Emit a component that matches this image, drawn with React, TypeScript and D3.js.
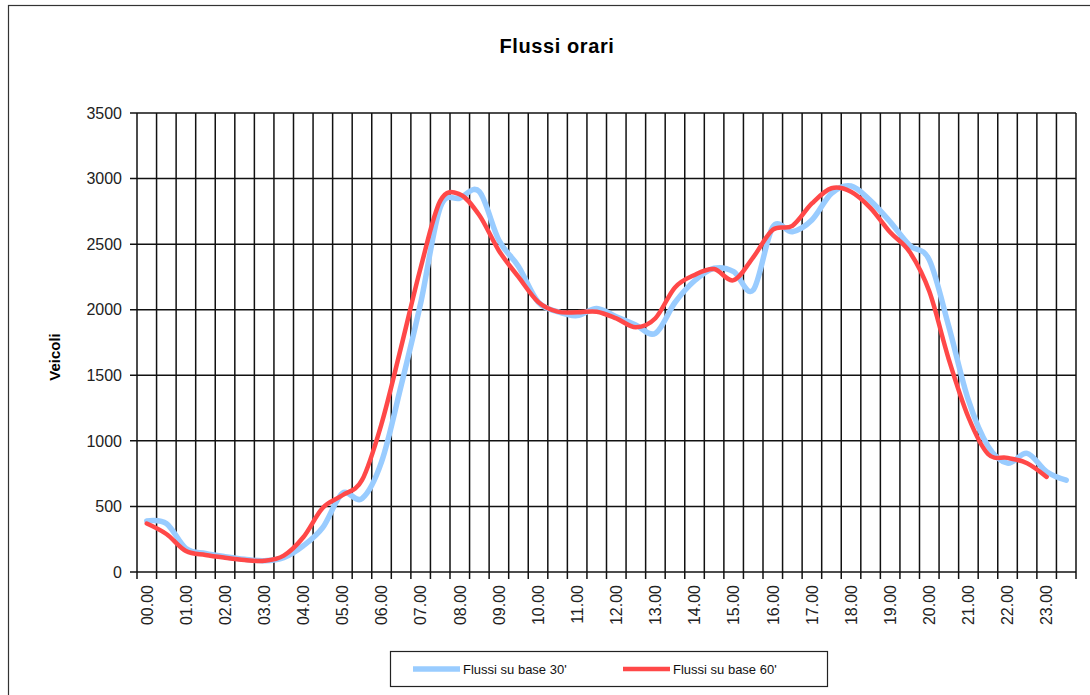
import { useRef, useEffect } from 'react';
import * as d3 from 'd3';

// Half-hour categories (only full hours get a label)
const categories = [
    '00.00', '00.30', '01.00', '01.30', '02.00', '02.30', '03.00', '03.30',
    '04.00', '04.30', '05.00', '05.30', '06.00', '06.30', '07.00', '07.30',
    '08.00', '08.30', '09.00', '09.30', '10.00', '10.30', '11.00', '11.30',
    '12.00', '12.30', '13.00', '13.30', '14.00', '14.30', '15.00', '15.30',
    '16.00', '16.30', '17.00', '17.30', '18.00', '18.30', '19.00', '19.30',
    '20.00', '20.30', '21.00', '21.30', '22.00', '22.30', '23.00', '23.30',
];

const flussi30 = [
    390, 370, 180, 142, 117, 97, 86, 110, 200, 340, 600, 560,
    840, 1420, 2050, 2780, 2850, 2900, 2530, 2330, 2060, 1985, 1955, 2010,
    1947, 1883, 1820, 2055, 2221, 2316, 2290, 2150, 2630, 2595, 2684, 2887,
    2943, 2830, 2670, 2490, 2380, 1870, 1310, 960, 830, 905, 765, 700,
];

const flussi60: (number | null)[] = [
    370, 290, 160, 130, 109, 92, 85, 125, 265, 490, 585, 700,
    1130, 1715, 2320, 2830, 2880, 2720, 2450, 2250, 2060, 1985, 1980, 1985,
    1934, 1866, 1935, 2170, 2265, 2310, 2225, 2400, 2610, 2640, 2810, 2926,
    2900, 2775, 2590, 2440, 2140, 1620, 1180, 900, 870, 830, 725, null,
];

const yTicks = [0, 500, 1000, 1500, 2000, 2500, 3000, 3500];

const BLUE = '#99ccff';
const RED = '#ff4848';
const FONT = '"Liberation Sans", Arial, sans-serif';

export default function App() {
    const chartRef = useRef<SVGSVGElement>(null);

    useEffect(() => {
        if (!chartRef.current) return;
        const svg = d3.select(chartRef.current);
        svg.selectAll('*').remove();

        const width = 1090;
        const height = 695;
        const plot = { left: 137, right: 1076, top: 113, bottom: 572 };

        svg.attr('width', width).attr('height', height);

        // Outer frame
        svg.append('rect')
            .attr('x', 8.5)
            .attr('y', 5.5)
            .attr('width', 1200)
            .attr('height', 800)
            .attr('fill', '#fff')
            .attr('stroke', '#333')
            .attr('stroke-width', 1.2);

        // Scales
        const x = d3.scaleBand()
            .domain(categories)
            .range([plot.left, plot.right])
            .padding(0);

        const y = d3.scaleLinear()
            .domain([0, 3500])
            .range([plot.bottom, plot.top]);

        const cx = (c: string) => x(c)! + x.bandwidth() / 2;

        // Grid
        const grid = svg.append('g').attr('stroke', '#111').attr('stroke-width', 1.5);
        yTicks.forEach(t => {
            grid.append('line')
                .attr('x1', plot.left - 7).attr('x2', plot.right)
                .attr('y1', y(t)).attr('y2', y(t));
        });
        const bounds = categories.map(c => x(c)!).concat([plot.right]);
        bounds.forEach(b => {
            grid.append('line')
                .attr('x1', b).attr('x2', b)
                .attr('y1', plot.top).attr('y2', plot.bottom + 7);
        });

        // Y tick labels
        svg.append('g')
            .selectAll('text')
            .data(yTicks)
            .enter()
            .append('text')
            .attr('x', plot.left - 15)
            .attr('y', d => y(d))
            .attr('dy', '0.36em')
            .attr('text-anchor', 'end')
            .attr('font-family', FONT)
            .attr('font-size', '16px')
            .attr('fill', '#222')
            .text(d => d);

        // X tick labels (full hours only)
        svg.append('g')
            .selectAll('text')
            .data(categories.filter((_, i) => i % 2 === 0))
            .enter()
            .append('text')
            .attr('transform', d => `translate(${cx(d)},${plot.bottom + 13}) rotate(-90)`)
            .attr('dy', '0.36em')
            .attr('text-anchor', 'end')
            .attr('font-family', FONT)
            .attr('font-size', '16px')
            .attr('fill', '#222')
            .text(d => d);

        // Lines (Excel-style smoothing)
        const line = d3.line<number | null>()
            .defined(d => d !== null)
            .x((_, i) => cx(categories[i]))
            .y(d => y(d as number))
            .curve(d3.curveCatmullRom.alpha(0));

        svg.append('path')
            .attr('d', line(flussi30))
            .attr('fill', 'none')
            .attr('stroke', BLUE)
            .attr('stroke-width', 5.5)
            .attr('stroke-linecap', 'round')
            .attr('stroke-linejoin', 'round');

        svg.append('path')
            .attr('d', line(flussi60))
            .attr('fill', 'none')
            .attr('stroke', RED)
            .attr('stroke-width', 4.5)
            .attr('stroke-linecap', 'round')
            .attr('stroke-linejoin', 'round');

        // Title
        svg.append('text')
            .attr('x', 557)
            .attr('y', 53)
            .attr('text-anchor', 'middle')
            .attr('font-family', FONT)
            .attr('font-size', '20px')
            .attr('font-weight', 'bold')
            .attr('letter-spacing', '0.6px')
            .text('Flussi orari');

        // Y axis title
        svg.append('text')
            .attr('transform', `translate(55,357) rotate(-90)`)
            .attr('dy', '0.36em')
            .attr('text-anchor', 'middle')
            .attr('font-family', FONT)
            .attr('font-size', '15px')
            .attr('font-weight', 'bold')
            .text('Veicoli');

        // Legend
        const lg = svg.append('g');
        lg.append('rect')
            .attr('x', 390.5)
            .attr('y', 651.5)
            .attr('width', 437)
            .attr('height', 35)
            .attr('fill', '#fff')
            .attr('stroke', '#222')
            .attr('stroke-width', 1.2);

        const items = [
            { label: "Flussi su base 30'", color: BLUE, w: 5.5, x0: 413 },
            { label: "Flussi su base 60'", color: RED, w: 4.5, x0: 623 },
        ];
        items.forEach(it => {
            lg.append('line')
                .attr('x1', it.x0).attr('x2', it.x0 + 47)
                .attr('y1', 669).attr('y2', 669)
                .attr('stroke', it.color)
                .attr('stroke-width', it.w);
            lg.append('text')
                .attr('x', it.x0 + 50)
                .attr('y', 669)
                .attr('dy', '0.36em')
                .attr('font-family', FONT)
                .attr('font-size', '13px')
                .attr('fill', '#111')
                .text(it.label);
        });
    }, []);

    return (
        <svg ref={chartRef} style={{ position: 'absolute', left: 0, top: 0, display: 'block' }}></svg>
    );
}
